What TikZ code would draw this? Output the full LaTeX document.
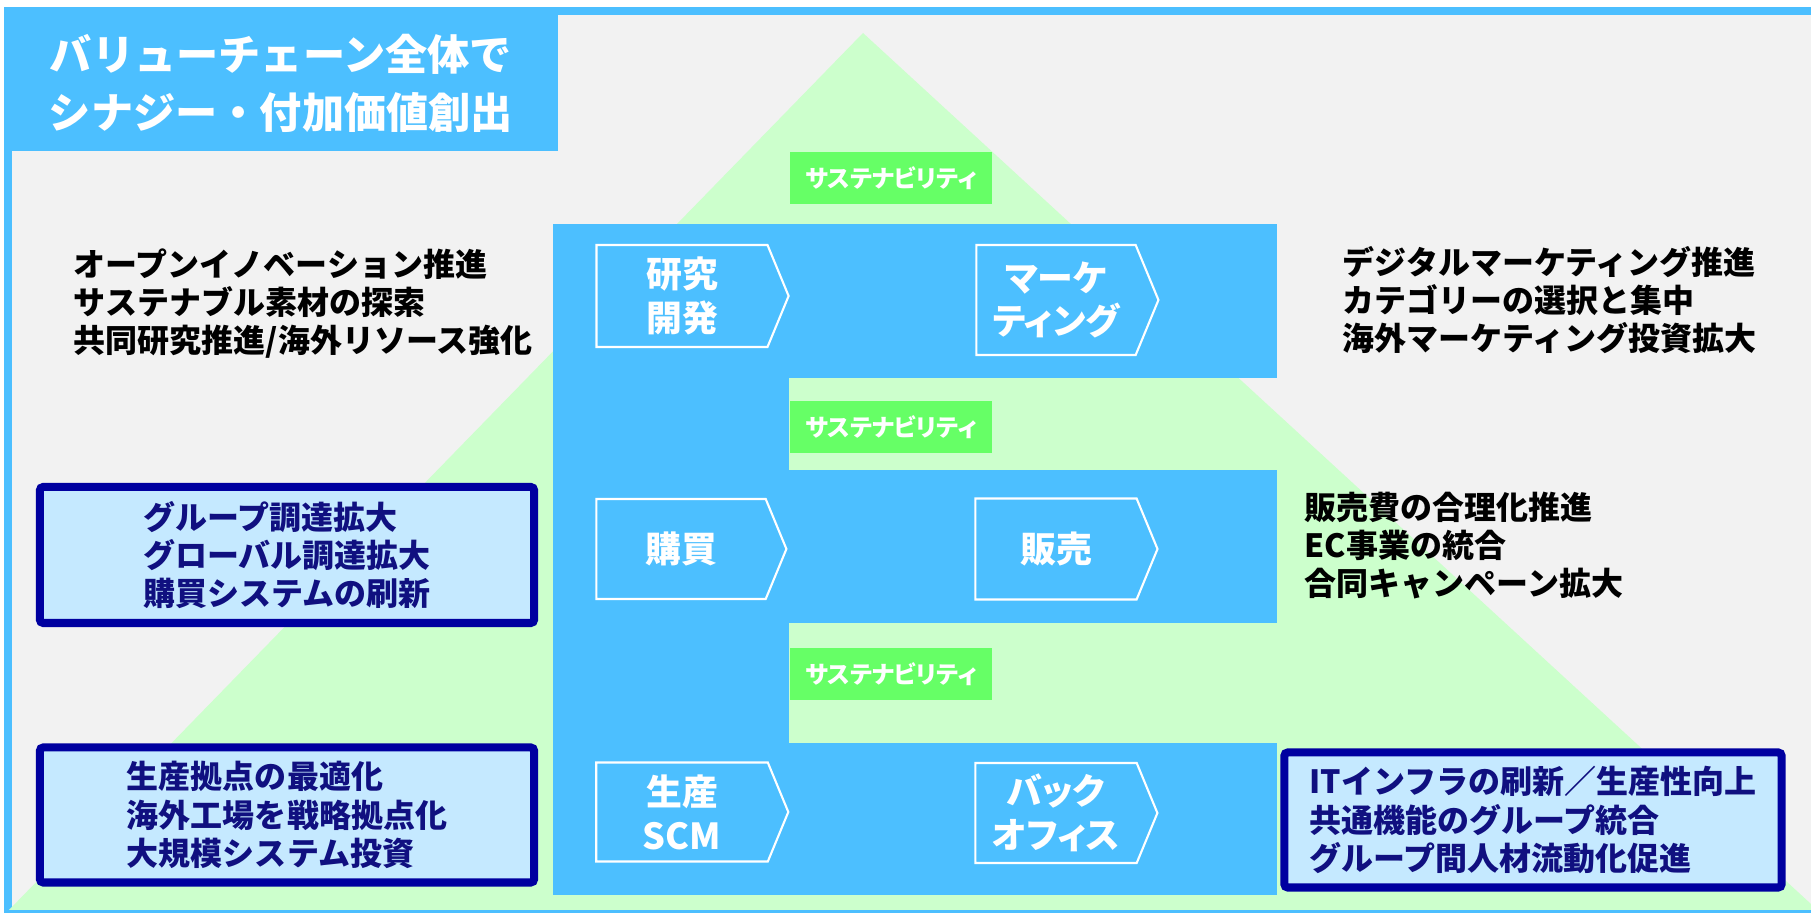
\documentclass[tikz,border=0pt]{standalone}
\usepackage{fontspec}
\setmainfont{Noto Sans CJK JP}
\usetikzlibrary{shapes.symbols}

\definecolor{vcblue}{RGB}{76,191,255}
\definecolor{bggray}{RGB}{242,242,242}
\definecolor{pyrgreen}{RGB}{204,255,204}
\definecolor{susgreen}{RGB}{102,255,102}
\definecolor{boxfill}{RGB}{197,233,255}
\definecolor{boxline}{RGB}{0,0,160}
\definecolor{boxtext}{RGB}{16,16,128}

\tikzset{
  titletext/.style={text=white, align=center, inner sep=0pt, font={\fontsize{12}{16.5}\selectfont\bfseries}},
  sust/.style={fill=susgreen, text=white, inner sep=0pt, minimum width=2.02cm, minimum height=0.52cm, font={\fontsize{6.8}{8}\selectfont\bfseries\addfontfeature{RawFeature=+palt}}},
  chev/.style={signal, signal to=east, signal pointer angle=135, draw=white, line width=0.6pt, text=white, align=center, inner sep=0pt, font={\fontsize{10.2}{12.5}\selectfont\bfseries\addfontfeature{RawFeature=+palt}}},
  plain/.style={anchor=west, align=left, inner sep=0pt, font={\fontsize{9.1}{10.8}\selectfont\bfseries}},
  goalbox/.style={draw=boxline, line width=2.3pt, fill=boxfill, rounded corners=1pt, text=boxtext, align=left, inner sep=0pt, font={\fontsize{9.1}{10.9}\selectfont\bfseries}}
}

\begin{document}
\begin{tikzpicture}[x=0.01cm,y=-0.01cm]
\useasboundingbox (0,0) rectangle (1811,913);
% frame and title panel
\fill[vcblue] (4,7) rectangle (1811,913);
\fill[bggray] (12,15) rectangle (1811,910);
\fill[vcblue] (4,7) rectangle (558,151);
% pyramid
\fill[pyrgreen] (863,33) -- (9,910) -- (1811,910) -- (1811,904) -- cycle;
% value chain blocks
\fill[vcblue] (553,224) rectangle (789,895);
\fill[vcblue] (789,224) rectangle (1277,378);
\fill[vcblue] (789,470) rectangle (1277,623);
\fill[vcblue] (789,743) rectangle (1277,895);

\node[titletext] (title) at (281,83) {バリューチェーン全体で\\シナジー・付加価値創出};

\node[sust] (sus1) at (891,178) {サステナビリティ};
\node[sust] (sus2) at (891,427) {サステナビリティ};
\node[sust] (sus3) at (891,674) {サステナビリティ};

\node[chev, minimum width=1.92cm, minimum height=1.02cm] (rd) at (682,296) {研究\\開発};
\node[chev, minimum width=1.82cm, minimum height=1.10cm] (mkt) at (1056,300) {マーケ\\ティング};
\node[chev, minimum width=1.90cm, minimum height=1.00cm] (buy) at (681,549) {購買};
\node[chev, minimum width=1.82cm, minimum height=1.01cm] (sales) at (1056,549) {販売};
\node[chev, minimum width=1.92cm, minimum height=0.99cm] (prod) at (682,812) {生産\\SCM};
\node[chev, minimum width=1.82cm, minimum height=1.00cm] (back) at (1056,813) {バック\\オフィス};

\node[plain] (rdtext) at (73,304) {オープンイノベーション推進\\サステナブル素材の探索\\共同研究推進/海外リソース強化};
\node[plain] (mkttext) at (1342,300) {デジタルマーケティング推進\\カテゴリーの選択と集中\\海外マーケティング投資拡大};
\node[plain] (salestext) at (1304,546) {販売費の合理化推進\\EC事業の統合\\合同キャンペーン拡大};

\node[goalbox, minimum width=4.94cm, minimum height=1.36cm] (buybox) at (287,555) {グループ調達拡大\\グローバル調達拡大\\購買システムの刷新};
\node[goalbox, minimum width=4.94cm, minimum height=1.35cm] (prodbox) at (287,815) {生産拠点の最適化\\海外工場を戦略拠点化\\大規模システム投資};
\node[goalbox, minimum width=4.97cm, minimum height=1.35cm] (backbox) at (1533,820) {ITインフラの刷新／生産性向上\\共通機能のグループ統合\\グループ間人材流動化促進};
\end{tikzpicture}
\end{document}
